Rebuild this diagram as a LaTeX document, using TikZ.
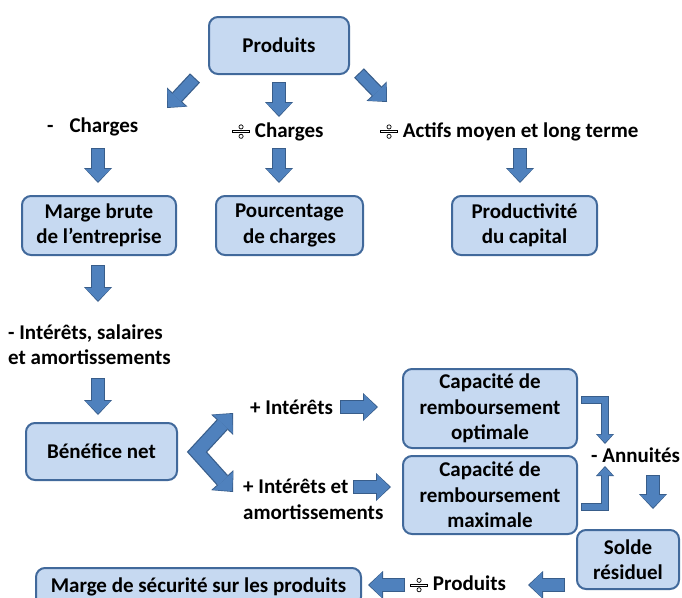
\documentclass[tikz,border=0pt]{standalone}
\usepackage{fontspec}
\setmainfont{Carlito}
\usetikzlibrary{arrows.meta}
\definecolor{afill}{RGB}{79,129,189}
\definecolor{abord}{RGB}{56,93,138}
\definecolor{bfill}{RGB}{198,217,241}
\definecolor{bbord}{RGB}{65,105,155}
\tikzset{
  txt/.style={font=\fontsize{21}{25.5}\selectfont\bfseries, inner sep=0pt, align=center},
  box/.style={txt, draw=bbord, fill=bfill, line width=2pt, rounded corners=9pt},
  bigout/.style={draw=abord, line width=13.6pt, line join=miter,
    -{Triangle[width=28pt,length=15pt,line width=0pt]}},
  bigin/.style={draw=afill, line width=11.2pt, line join=miter,
    -{Triangle[width=25.2pt,length=12.6pt,line width=0pt]}, shorten >=1.4pt, shorten <=1.1pt},
  thinout/.style={draw=abord, line width=8pt, line join=miter,
    -{Triangle[width=18pt,length=10pt,line width=0pt]}},
  thinin/.style={draw=afill, line width=5.8pt, line join=miter,
    -{Triangle[width=15.4pt,length=8pt,line width=0pt]}, shorten >=1.3pt, shorten <=1.1pt},
  chevout/.style={draw=abord, line width=15pt, line join=miter,
    {Triangle[width=30pt,length=16pt,line width=0pt]}-{Triangle[width=30pt,length=16pt,line width=0pt]}},
  chevin/.style={draw=afill, line width=12.6pt, line join=miter,
    {Triangle[width=27.2pt,length=13.6pt,line width=0pt]}-{Triangle[width=27.2pt,length=13.6pt,line width=0pt]},
    shorten >=1.4pt, shorten <=1.4pt},
}
\newcommand\barr[2]{\draw[bigout] (#1) -- (#2); \draw[bigin] (#1) -- (#2);}
\newcommand\dv{\tikz[x=1pt,y=1pt,baseline=-5.5pt,line width=0.7pt]{%
  \draw[fill=white] (-8.5,-1.1) rectangle (8.5,1.1);
  \draw[fill=white] (0,4.7) circle (2.1);
  \draw[fill=white] (0,-4.7) circle (2.1);}}
\begin{document}
\begin{tikzpicture}[x=1pt,y=-1pt]
\useasboundingbox (0,0) rectangle (682,597);
\fill[white] (0,0) rectangle (682,597);
% boxes
\node[box, minimum width=140pt, minimum height=57pt] (produits) at (279,45.5) {Produits};
\node[box, minimum width=154pt, minimum height=59pt] (marge) at (99,225.5) {Marge brute\\de l’entreprise};
\node[box, minimum width=147pt, minimum height=59pt] (pourc) at (289.5,225.5) {Pourcentage\\de charges};
\node[box, minimum width=145pt, minimum height=59pt] (prodcap) at (524.5,225.5) {Productivité\\du capital};
\node[box, minimum width=151pt, minimum height=57pt] (benef) at (101.5,451.5) {Bénéfice net};
\node[box, minimum width=174pt, minimum height=79pt] (capopt) at (490,408.5) {Capacité de\\remboursement\\optimale};
\node[box, minimum width=174pt, minimum height=78pt] (capmax) at (490,495) {Capacité de\\remboursement\\maximale};
\node[box, minimum width=102pt, minimum height=59pt] (solde) at (628,559.5) {Solde\\résiduel};
\node[box, minimum width=325pt, minimum height=38pt] (marsec) at (198.5,587) {Marge de sécurité sur les produits};
% labels
\node[txt, anchor=west] (lch) at (47,127) {-\hspace{16pt}Charges};
\node[txt, anchor=west] (dch) at (232,131.5) {\dv\hspace{5pt}Charges};
\node[txt, anchor=west] (dact) at (380,131.5) {\dv\hspace{5pt}Actifs moyen et long terme};
\node[txt, anchor=west, align=left] (isa) at (8,344.5) {- Intérêts, salaires\\et amortissements};
\node[txt, anchor=west] (pint) at (250,407) {+ Intérêts};
\node[txt, anchor=west, align=left] (pinta) at (243,499.5) {+ Intérêts et\\amortissements};
\node[txt, anchor=west] (ann) at (591,455) {- Annuités};
\node[txt, anchor=west] (dprod) at (410,584) {\dv\hspace{5pt}Produits};
% arrow end points
\coordinate (a1s) at (195,78);  \coordinate (a1e) at (167,108);
\coordinate (a2s) at (279,82);  \coordinate (a2e) at (279,117);
\coordinate (a3s) at (359,73);  \coordinate (a3e) at (387,102);
\coordinate (a4s) at (98,148);  \coordinate (a4e) at (98,183);
\coordinate (a5s) at (279,148); \coordinate (a5e) at (279,183);
\coordinate (a6s) at (520,148); \coordinate (a6e) at (520,183);
\coordinate (a7s) at (98,265);  \coordinate (a7e) at (98,302);
\coordinate (a8s) at (98,378);  \coordinate (a8e) at (98,415);
\coordinate (a10s) at (340,407); \coordinate (a10e) at (378,407);
\coordinate (a11s) at (353,487); \coordinate (a11e) at (391,487);
\coordinate (a14s) at (653,475); \coordinate (a14e) at (653,509);
\coordinate (a15s) at (565,585); \coordinate (a15e) at (528,585);
\coordinate (a16s) at (405,585); \coordinate (a16e) at (368,585);
\coordinate (ct) at (233,413); \coordinate (cv) at (197,452); \coordinate (cb) at (233,492);
\coordinate (e1s) at (581,400); \coordinate (e1c) at (605,400); \coordinate (e1e) at (605,444);
\coordinate (e2s) at (581,507); \coordinate (e2c) at (605,507); \coordinate (e2e) at (605,466);
% arrows
\barr{a1s}{a1e}
\barr{a2s}{a2e}
\barr{a3s}{a3e}
\barr{a4s}{a4e}
\barr{a5s}{a5e}
\barr{a6s}{a6e}
\barr{a7s}{a7e}
\barr{a8s}{a8e}
\barr{a10s}{a10e}
\barr{a11s}{a11e}
\barr{a14s}{a14e}
\barr{a15s}{a15e}
\barr{a16s}{a16e}
\draw[chevout] (ct) -- (cv) -- (cb);
\draw[chevin] (ct) -- (cv) -- (cb);
\draw[thinout] (e1s) -- (e1c) -- (e1e);
\draw[thinin] (e1s) -- (e1c) -- (e1e);
\draw[thinout] (e2s) -- (e2c) -- (e2e);
\draw[thinin] (e2s) -- (e2c) -- (e2e);
\end{tikzpicture}
\end{document}
